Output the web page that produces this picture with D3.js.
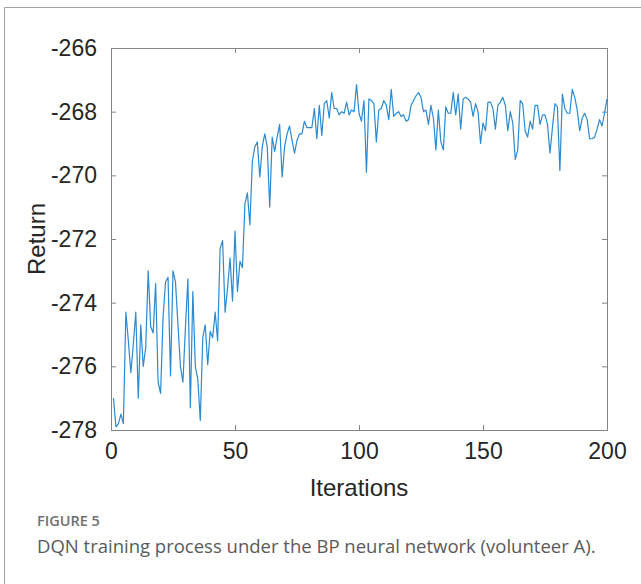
<!DOCTYPE html>
<html>
<head>
<meta charset="utf-8">
<script src="https://cdn.jsdelivr.net/npm/d3@7"></script>
<style>
  html, body { margin: 0; padding: 0; background: #fff; }
  svg { display: block; }
</style>
</head>
<body>
<svg id="fig" width="641" height="584"></svg>
<script>
// DQN return per training iteration (iterations 1..200)
const returns = [
  -277.0, -277.9, -277.8, -277.5, -277.8, -274.3, -275.2, -276.2, -275.3, -274.3,
  -277.0, -274.7, -276.0, -275.4, -273.0, -274.75, -274.95, -273.4, -276.5, -276.85,
  -274.45, -273.35, -273.2, -276.3, -273.0, -273.35, -274.7, -276.0, -276.5, -274.8,
  -273.25, -277.3, -273.65, -276.0, -276.4, -277.7, -275.1, -274.7, -275.95, -274.9,
  -275.1, -274.3, -275.2, -272.3, -272.05, -274.3, -273.55, -272.6, -273.95, -271.75,
  -273.65, -272.7, -272.9, -270.9, -270.55, -271.55, -269.55, -269.1, -268.95, -270.05,
  -269.1, -268.7, -269.1, -271.0, -268.8, -269.25, -268.8, -268.4, -270.05, -269.1,
  -268.7, -268.45, -268.9, -269.3, -268.9, -268.7, -268.7, -268.3, -268.5, -268.5,
  -268.5, -267.9, -268.85, -267.8, -268.75, -267.75, -267.65, -268.2, -267.4, -267.9,
  -267.9, -268.1, -268.0, -268.05, -267.7, -268.1, -267.95, -268.0, -267.15, -268.05,
  -268.3, -267.65, -269.9, -267.6, -267.65, -267.75, -268.95, -267.95, -267.9, -267.65,
  -267.8, -268.25, -267.3, -268.15, -268.05, -268.0, -268.15, -268.1, -268.3, -268.25,
  -267.8, -267.65, -267.5, -267.4, -267.55, -268.0, -267.95, -268.4, -267.8, -268.2,
  -269.2, -267.95, -268.95, -269.2, -267.85, -268.05, -268.05, -267.4, -268.1, -267.45,
  -268.55, -267.6, -267.55, -267.6, -267.7, -268.15, -267.75, -268.0, -269.0, -268.35,
  -268.6, -267.7, -267.7, -267.9, -268.55, -267.8, -267.7, -267.55, -267.8, -268.6,
  -268.0, -268.35, -269.5, -269.2, -267.65, -267.75, -268.6, -268.8, -268.3, -268.55,
  -267.8, -267.8, -268.4, -268.1, -268.1, -268.4, -269.3, -268.5, -267.75, -267.85,
  -269.85, -267.45, -267.9, -268.05, -268.05, -267.3, -267.55, -267.95, -268.6, -268.2,
  -268.05, -268.25, -268.85, -268.85, -268.8, -268.55, -268.25, -268.45, -268.05, -267.6
];

const xTicks = [0, 50, 100, 150, 200];
const yTicks = [-278, -276, -274, -272, -270, -268, -266];
const xLabel = "Iterations";
const yLabel = "Return";
const figureLabel = "FIGURE 5";
const captionText = "DQN training process under the BP neural network (volunteer A).";

const svg = d3.select("#fig");
const axisColor = "#858585";
const textColor = "#262626";
const axisFont = "'Liberation Sans', Arial, Helvetica, sans-serif";

// outer figure frame (left and top edges)
svg.append("path")
  .attr("d", "M4.5,584 V7.5 H641")
  .attr("fill", "none")
  .attr("stroke", "#a0a0a0")
  .attr("stroke-width", 1);

const plot = { left: 111, right: 607, top: 48, bottom: 430 };

const x = d3.scaleLinear().domain([0, 200]).range([plot.left, plot.right]);
const y = d3.scaleLinear().domain([-278, -266]).range([plot.bottom, plot.top]);

const tickLen = 5;
const plain = d => String(d); // ASCII hyphen for negatives

// bottom axis with labels, inward ticks
const gx = svg.append("g")
  .attr("transform", `translate(0,${plot.bottom})`)
  .call(d3.axisBottom(x).tickValues(xTicks).tickSizeInner(-tickLen).tickSizeOuter(0).tickPadding(13).tickFormat(plain));

// left axis with labels, inward ticks
const gy = svg.append("g")
  .attr("transform", `translate(${plot.left},0)`)
  .call(d3.axisLeft(y).tickValues(yTicks).tickSizeInner(-tickLen).tickSizeOuter(0).tickPadding(14).tickFormat(plain));

// top and right axes: ticks only
const gt = svg.append("g")
  .attr("transform", `translate(0,${plot.top})`)
  .call(d3.axisTop(x).tickValues(xTicks).tickSizeInner(-tickLen).tickSizeOuter(0).tickFormat(""));
const gr = svg.append("g")
  .attr("transform", `translate(${plot.right},0)`)
  .call(d3.axisRight(y).tickValues(yTicks).tickSizeInner(-tickLen).tickSizeOuter(0).tickFormat(""));

[gx, gy, gt, gr].forEach(g => {
  g.select(".domain").remove();
  g.selectAll(".tick line").attr("stroke", axisColor).attr("stroke-width", 1);
  g.selectAll(".tick text")
    .attr("fill", textColor)
    .style("font-family", axisFont)
    .style("font-size", "23px");
});

// plot box
svg.append("rect")
  .attr("x", plot.left + 0.5)
  .attr("y", plot.top + 0.5)
  .attr("width", plot.right - plot.left)
  .attr("height", plot.bottom - plot.top)
  .attr("fill", "none")
  .attr("stroke", axisColor)
  .attr("stroke-width", 1);

// return curve
const line = d3.line()
  .x((d, i) => x(i + 1))
  .y(d => y(d));

svg.append("path")
  .datum(returns)
  .attr("d", line)
  .attr("fill", "none")
  .attr("stroke", "#2a8ad2")
  .attr("stroke-width", 1.2)
  .attr("stroke-linejoin", "round");

// axis titles
svg.append("text")
  .attr("x", (plot.left + plot.right) / 2)
  .attr("y", 496)
  .attr("text-anchor", "middle")
  .attr("fill", textColor)
  .style("font-family", axisFont)
  .style("font-size", "24px")
  .text(xLabel);

svg.append("text")
  .attr("transform", `translate(45,${(plot.top + plot.bottom) / 2}) rotate(-90)`)
  .attr("text-anchor", "middle")
  .attr("fill", textColor)
  .style("font-family", axisFont)
  .style("font-size", "24px")
  .text(yLabel);

// figure caption
svg.append("text")
  .attr("x", 37)
  .attr("y", 526)
  .attr("fill", "#707070")
  .style("font-family", "'Open Sans', 'Noto Sans', sans-serif")
  .style("font-size", "14.5px")
  .style("font-weight", 600)
  .text(figureLabel);

svg.append("text")
  .attr("x", 37)
  .attr("y", 553)
  .attr("fill", "#5a5a5a")
  .style("font-family", "'Open Sans', 'Noto Sans', sans-serif")
  .style("font-size", "18.5px")
  .style("font-weight", 400)
  .text(captionText);
</script>
</body>
</html>
